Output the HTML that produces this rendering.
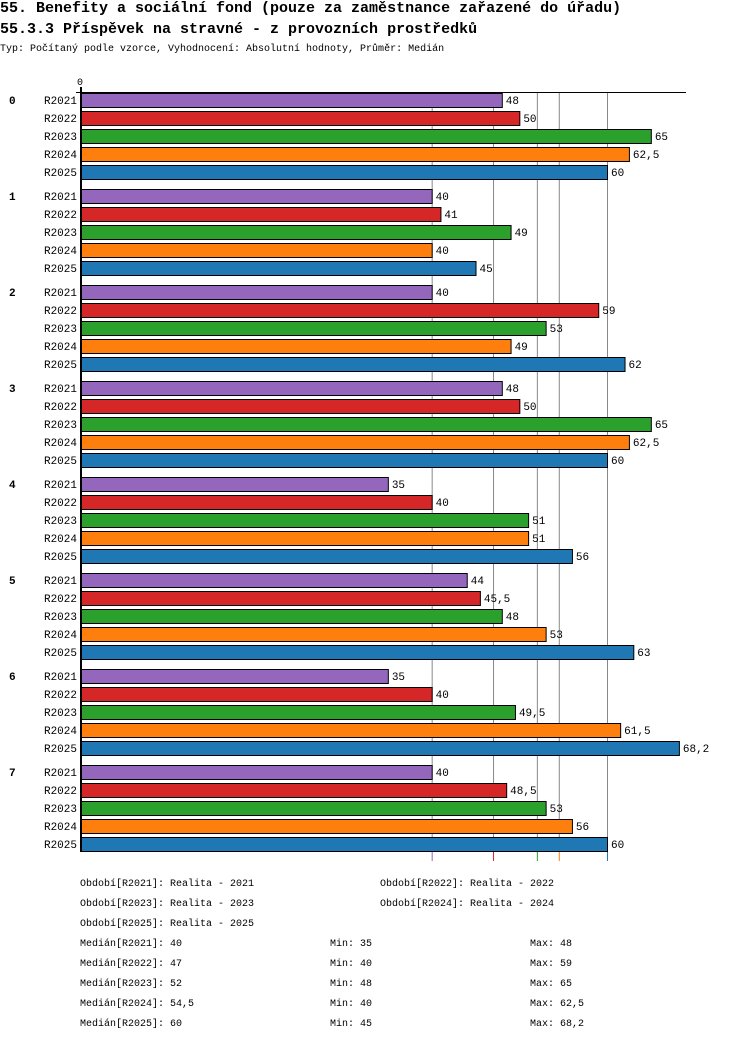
<!DOCTYPE html>
<html><head><meta charset="utf-8">
<style>
body{margin:0;background:#fff;width:750px;height:1040px;overflow:hidden;font-family:"Liberation Mono",monospace;}
.t{position:absolute;left:0;white-space:pre;color:#000;}
</style></head>
<body>
<div class="t" style="top:0px;font-size:15px;font-weight:bold;">55. Benefity a sociální fond (pouze za zaměstnance zařazené do úřadu)</div>
<div class="t" style="top:21px;font-size:15px;font-weight:bold;">55.3.3 Příspěvek na stravné - z provozních prostředků</div>
<div class="t" style="top:44px;font-size:10px;">Typ: Počítaný podle vzorce, Vyhodnocení: Absolutní hodnoty, Průměr: Medián</div>
<svg id="chart" width="750" height="1040" style="position:absolute;left:0;top:0" font-family="Liberation Mono, monospace"></svg>
<script>
const groups=["0","1","2","3","4","5","6","7"];
const series=["R2021","R2022","R2023","R2024","R2025"];
const colors=["#9467bd","#d62728","#2ca02c","#ff7f0e","#1f77b4"];
const values=[
[48,50,65,62.5,60],
[40,41,49,40,45],
[40,59,53,49,62],
[48,50,65,62.5,60],
[35,40,51,51,56],
[44,45.5,48,53,63],
[35,40,49.5,61.5,68.2],
[40,48.5,53,56,60]];
const medians=[40,47,52,54.5,60];
const mins=[35,40,48,40,45];
const maxs=[48,59,65,62.5,68.2];
const labels=["Realita - 2021","Realita - 2022","Realita - 2023","Realita - 2024","Realita - 2025"];
const svg=document.getElementById('chart');
const NS='http://www.w3.org/2000/svg';
const x0=81,pxPerUnit=(607-81)/60;
const xs=v=>x0+v*pxPerUnit;
const rowY=(g,s)=>93+g*96+s*18;
function mk(t,a){const e=document.createElementNS(NS,t);for(const k in a)e.setAttribute(k,a[k]);svg.appendChild(e);return e;}
const fmt=v=>String(v).replace('.',',');
// median lines
medians.forEach((m,i)=>{
 const l=mk('line',{x1:xs(m)+0.5,x2:xs(m)+0.5,y1:92,y2:850,stroke:'#888','stroke-width':1});
 
 
 const c=mk('line',{x1:xs(m)+0.5,x2:xs(m)+0.5,y1:850,y2:861,stroke:colors[i],'stroke-width':1});
 
 
});
// axes
const ax=mk('line',{x1:76,x2:686,y1:92.5,y2:92.5,stroke:'#000','stroke-width':1});


const ay=mk('line',{x1:81,x2:81,y1:87,y2:852,stroke:'#000','stroke-width':2});


const z=mk('text',{x:80,y:85,'font-size':10,'text-anchor':'middle'});z.textContent='0';


groups.forEach((g,gi)=>{
 const gl=mk('text',{x:9,y:rowY(gi,0)+11,'font-size':11,'font-weight':'bold'});gl.textContent=g;
 
 
 series.forEach((s,si)=>{
  const y=rowY(gi,si),v=values[gi][si];
  const sl=mk('text',{x:77,y:y+11,'font-size':11,'text-anchor':'end'});sl.textContent=s;
  
  
  const r=mk('rect',{x:81.5,y:y+0.5,width:xs(v)-81,height:14,fill:colors[si],stroke:'#000','stroke-width':1});
  
  
  const vl=mk('text',{x:xs(v)+4,y:y+11,'font-size':11});vl.textContent=fmt(v);
  
  
 });
});
// footer legend
function txt(x,y,s,name){const e=mk('text',{x:x,y:y,'font-size':10});e.textContent=s;
 
 }
series.forEach((s,i)=>{
 txt(i%2?380:80,886+Math.floor(i/2)*20,'Období['+s+']: '+labels[i],'legend-entry');
});
series.forEach((s,i)=>{
 const y=946+i*20;
 txt(80,y,'Medián['+s+']: '+fmt(medians[i]),'median-stat');
 txt(330,y,'Min: '+fmt(mins[i]),'min-stat');
 txt(530,y,'Max: '+fmt(maxs[i]),'max-stat');
});
</script>
</body></html>
